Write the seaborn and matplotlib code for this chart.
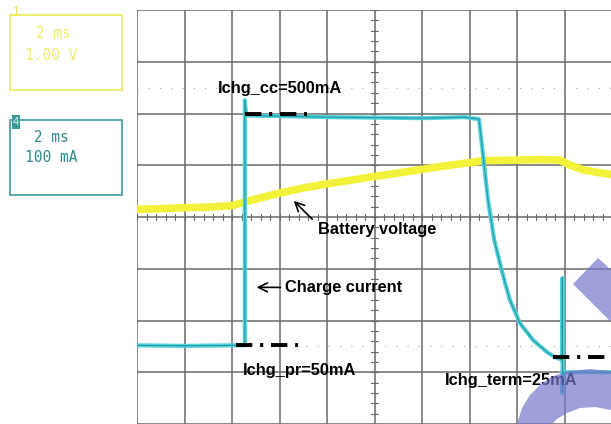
import numpy as np
import pandas as pd
import matplotlib
matplotlib.use('Agg')
import matplotlib.pyplot as plt
from matplotlib.patches import Rectangle, Polygon
import seaborn as sns

# screen readings, in scope divisions (x: 2 ms/div, y: 8 divisions tall)
t_current = [0.0, 1.0, 2.0, 2.26, 2.27, 2.27, 2.30, 3.0, 4.0, 5.0, 6.0, 6.5, 6.9, 7.2,
             7.39, 7.52, 7.64, 7.75, 7.85, 8.06, 8.34, 8.63, 8.80, 8.95,
             8.955, 8.96, 8.965, 8.97, 9.2, 10.0]
current = [1.52, 1.51, 1.52, 1.52, 1.52, 6.26, 5.96, 5.95, 5.93, 5.92, 5.91, 5.92, 5.93, 5.89,
           4.33, 3.56, 3.11, 2.72, 2.40, 1.95, 1.62, 1.39, 1.29, 1.24,
           2.82, 0.60, 1.00, 1.00, 1.00, 1.00]

t_voltage = [0.0, 0.5, 1.0, 1.5, 2.0, 2.27, 2.6, 3.0, 3.5, 4.0, 4.5, 4.9, 5.5, 6.0, 6.5, 7.0,
             7.3, 8.0, 8.5, 8.9, 9.1, 9.4, 9.7, 10.0]
voltage = [4.15, 4.16, 4.18, 4.19, 4.22, 4.29, 4.37, 4.46, 4.56, 4.64, 4.71, 4.77, 4.85, 4.92,
           4.99, 5.05, 5.09, 5.10, 5.11, 5.10, 5.01, 4.91, 4.86, 4.82]

df_i = pd.DataFrame({'t': t_current, 'v': current})
df_v = pd.DataFrame({'t': t_voltage, 'v': voltage})

sns.set_style('white')
plt.rcParams['font.family'] = ['Liberation Sans', 'DejaVu Sans']

fig = plt.figure(figsize=(6.11, 4.24), dpi=100)
W, H = 611, 424


def fx(px):
    return px / W


def fy(py):
    return 1 - py / H


ax = fig.add_axes([fx(137), 0, 475 / W, 414 / H])
ax.set_xlim(0, 10)
ax.set_ylim(0, 8)
ax.set_xticks(range(11))
ax.set_yticks(range(9))
ax.grid(True, color='#6a6a6a', lw=1.1)
ax.tick_params(length=0, labelbottom=False, labelleft=False)
for s in ax.spines.values():
    s.set_visible(False)

# centre graticule ticks
for t in np.arange(0, 10.01, 0.2):
    ax.plot([t, t], [3.94, 4.06], color='#6a6a6a', lw=0.8)
for t in np.arange(0, 8.01, 0.2):
    ax.plot([4.92, 5.08], [t, t], color='#6a6a6a', lw=0.8)

# cursor dotted lines
ax.axhline(6.5, color='#b0b0b0', lw=0.9, ls=(0, (1, 8)))
ax.axhline(1.5, color='#b0b0b0', lw=0.9, ls=(0, (1, 8)))

sns.lineplot(data=df_v, x='t', y='v', sort=False, estimator=None, color='#f2f23a', lw=5.5, ax=ax)
sns.lineplot(data=df_i, x='t', y='v', sort=False, estimator=None, color='#52d2de', lw=3.0, ax=ax)
sns.lineplot(data=df_i, x='t', y='v', sort=False, estimator=None, color='#23999b', lw=0.8, ax=ax)

dash = dict(color='black', lw=2.8, ls=(0, (4.2, 2, 0.8, 2)))
ax.plot([2.27, 3.58], [5.99, 5.99], **dash)
ax.plot([2.08, 3.39], [1.53, 1.53], **dash)
ax.plot([8.76, 10.0], [1.29, 1.29], **dash)

tk = dict(fontsize=11.8, fontweight='bold', color='black', va='center')
ax.text(3.01, 6.49, 'Ichg_cc=500mA', ha='center', **tk)
ax.text(3.81, 3.75, 'Battery voltage', ha='left', **tk)
ax.text(3.12, 2.63, 'Charge current', ha='left', **tk)
ax.text(2.23, 1.04, 'Ichg_pr=50mA', ha='left', **tk)
ax.text(6.48, 0.85, 'Ichg_term=25mA', ha='left', **tk)

arr = dict(arrowstyle='->', color='black', lw=1.2, mutation_scale=16)
ax.annotate('', xy=(3.26, 4.35), xytext=(3.73, 3.92), arrowprops=arr)
ax.annotate('', xy=(2.46, 2.64), xytext=(3.08, 2.64), arrowprops=arr)

# watermark
mark = '#7676cc'
dia = [(573, 284), (598, 258), (640, 296), (612, 323)]
ring = [(517, 424), (522, 408), (530, 395), (542, 383), (556, 375), (570, 371), (590, 369),
        (611, 371), (611, 410), (595, 407), (580, 408), (567, 413), (557, 419), (552, 424)]
for pts in (dia, ring):
    fig.patches.append(Polygon([(fx(x), fy(y)) for x, y in pts], closed=True,
                               transform=fig.transFigure, color=mark, alpha=0.7, lw=0, zorder=5))

# channel boxes
fig.patches.append(Rectangle((fx(10), fy(90)), 112 / W, 75 / H, transform=fig.transFigure,
                             fill=False, ec='#eeee70', lw=1.5))
fig.text(fx(12), fy(12), '1', color='#e6e640', fontsize=9, ha='left', va='center')
fig.text(fx(27), fy(33), ' 2 ms', color='#ecec6a', fontsize=10.5, family='DejaVu Sans Mono', va='center')
fig.text(fx(25), fy(55), '1.00 V', color='#ecec6a', fontsize=10.5, family='DejaVu Sans Mono', va='center')

fig.patches.append(Rectangle((fx(10), fy(195)), 112 / W, 75 / H, transform=fig.transFigure,
                             fill=False, ec='#4aa6a6', lw=1.3))
fig.patches.append(Rectangle((fx(12), fy(129)), 8 / W, 14 / H, transform=fig.transFigure,
                             color='#3a9a9a', lw=0))
fig.text(fx(16), fy(122), '4', color='#d8f0f0', fontsize=8, ha='center', va='center')
fig.text(fx(25), fy(137), ' 2 ms', color='#2f8c8c', fontsize=10.5, family='DejaVu Sans Mono', va='center')
fig.text(fx(25), fy(157), '100 mA', color='#2f8c8c', fontsize=10.5, family='DejaVu Sans Mono', va='center')

fig.savefig('out.png', dpi=100)
